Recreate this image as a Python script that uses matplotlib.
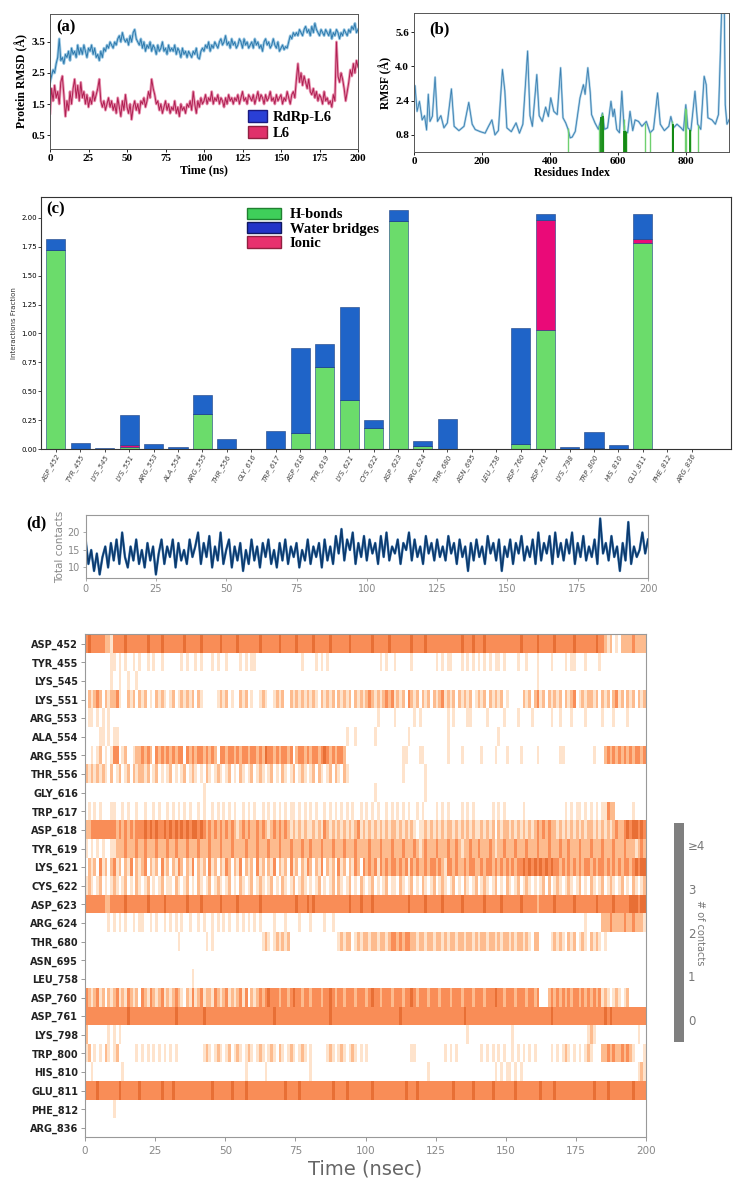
import numpy as np
import matplotlib
matplotlib.use("Agg")
import matplotlib.pyplot as plt
from matplotlib.colors import ListedColormap, Normalize
from matplotlib.cm import ScalarMappable
from matplotlib.patches import Patch

# ---------------- datos ----------------
# (a) RMSD, un valor por ns (0..200)
rmsd_time = np.arange(0, 201)
rmsd_complex = [2.2, 2.4, 2.6, 2.5, 2.8, 3.0, 3.6, 2.9, 3.0, 2.8,
                3.1, 3.0, 3.2, 2.9, 3.3, 3.1, 3.2, 3.0, 3.4, 3.1,
                3.3, 3.1, 3.4, 3.2, 3.0, 3.3, 3.2, 3.4, 3.1, 3.3,
                3.0, 3.1, 2.9, 3.2, 3.0, 3.3, 3.2, 3.4, 3.3, 3.5,
                3.4, 3.3, 3.5, 3.4, 3.6, 3.7, 3.5, 3.8, 3.6, 3.5,
                3.6, 3.4, 3.7, 3.5, 3.8, 3.9, 3.6, 3.5, 3.4, 3.6,
                3.3, 3.5, 3.2, 3.4, 3.3, 3.5, 3.2, 3.4, 3.3, 3.1,
                3.4, 3.2, 3.3, 3.5, 3.2, 3.3, 3.1, 3.4, 3.2, 3.3,
                3.2, 3.4, 3.1, 3.3, 3.2, 3.0, 3.3, 3.1, 3.2, 3.0,
                3.2, 3.1, 3.0, 3.2, 3.1, 3.3, 3.0, 2.95, 3.2, 3.3,
                3.2, 3.4, 3.3, 3.5, 3.2, 3.4, 3.3, 3.5, 3.4, 3.3,
                3.5, 3.6, 3.4, 3.5, 3.7, 3.4, 3.5, 3.3, 3.6, 3.4,
                3.5, 3.3, 3.4, 3.6, 3.5, 3.3, 3.6, 3.4, 3.5, 3.3,
                3.4, 3.5, 3.3, 3.6, 3.4, 3.5, 3.3, 3.4, 3.2, 3.5,
                3.6, 3.4, 3.5, 3.3, 3.4, 3.6, 3.4, 3.3, 3.5, 3.2,
                3.3, 3.4, 3.25, 3.35, 3.3, 3.5, 3.7, 3.6, 3.8, 3.7,
                3.8, 3.7, 3.9, 3.8, 3.7, 3.9, 4.0, 3.8, 3.9, 3.7,
                4.0, 3.8, 4.1, 3.9, 3.8, 3.7, 3.9, 3.8, 3.7, 3.9,
                3.8, 3.7, 3.9, 3.6, 3.8, 3.7, 3.9, 3.8, 3.6, 3.8,
                3.7, 3.9, 3.8, 3.7, 3.9, 3.8, 4.0, 3.9, 4.1, 3.8, 3.9]
rmsd_ligand = [1.2, 2.0, 1.6, 2.1, 1.7, 1.9, 1.5, 2.2, 2.4, 1.8,
               1.1, 1.6, 1.3, 1.9, 1.5, 2.0, 2.3, 1.7, 2.1, 1.6,
               2.2, 1.7, 1.9, 1.5, 1.8, 1.4, 1.7, 1.5, 1.9, 1.6,
               1.8, 2.0, 2.3, 1.6, 1.4, 1.6, 1.3, 1.5, 1.7, 1.4,
               1.6, 1.3, 1.5, 1.2, 1.7, 1.4, 1.1, 1.6, 1.3, 1.8,
               1.4, 1.2, 1.5, 1.0, 1.4, 1.6, 1.3, 1.5, 1.2, 1.6,
               1.5, 1.7, 1.4, 1.6, 1.9, 1.7, 2.3, 2.0, 1.8, 1.5,
               1.6, 1.3, 1.5, 1.2, 1.4, 1.6, 1.3, 1.5, 1.2, 1.4,
               1.3, 1.6, 1.2, 1.4, 1.1, 1.5, 1.3, 1.4, 1.2, 1.5,
               1.4, 1.6, 1.3, 1.9, 1.5, 1.2, 1.6, 1.4, 1.7, 1.5,
               1.6, 1.8, 1.5, 1.7, 1.6, 1.9, 1.5, 1.7, 1.6, 1.8,
               1.5, 1.7, 1.6, 1.4, 1.7, 1.5, 1.8, 1.6, 1.7, 1.5,
               1.7, 1.6, 1.8, 1.5, 1.7, 1.9, 1.6, 1.7, 1.5, 1.8,
               1.7, 1.6, 1.8, 1.5, 1.7, 1.9, 1.6, 1.8, 1.7, 1.5,
               1.8, 1.6, 1.7, 1.9, 1.6, 1.7, 1.5, 1.8, 1.6, 1.7,
               1.8, 1.5, 1.7, 1.6, 1.9, 1.7, 1.5, 1.8, 1.9, 1.7,
               2.3, 2.8, 2.2, 2.5, 2.1, 2.4, 2.2, 2.0, 2.3, 1.9,
               1.8, 2.0, 1.7, 1.9, 1.6, 1.8, 1.7, 1.5, 1.9, 1.6,
               1.7, 1.5, 1.6, 1.4, 1.8, 1.6, 3.5, 2.4, 2.2, 2.5,
               2.3, 2.0, 1.6, 1.9, 2.2, 2.6, 2.4, 2.8, 2.5, 2.9, 2.7]

# (b) RMSF: residuo, valor (Å)
rmsf_res = [0, 3, 9, 16, 24, 31, 37, 42, 47, 54, 62, 69, 79, 88, 98, 110, 118, 132, 147,
            161, 171, 180, 195, 209, 219, 229, 238, 248, 260, 267, 273, 286, 300, 310,
            320, 334, 341, 348, 361, 368, 377, 387, 395, 402, 411, 421, 431, 438, 446,
            453, 459, 465, 474, 488, 498, 503, 511, 518, 522, 532, 542, 554, 560, 569,
            579, 585, 589, 596, 604, 611, 618, 628, 635, 643, 650, 660, 670, 683, 694,
            704, 716, 724, 736, 749, 755, 763, 773, 785, 792, 799, 805, 814, 826, 834,
            843, 853, 859, 864, 876, 886, 895, 898, 905, 912, 915, 920, 926]
rmsf_val = [2.9, 3.1, 1.9, 2.37, 1.5, 1.7, 1.03, 2.7, 1.43, 1.67, 3.5, 1.43, 1.7, 1.13,
            1.36, 2.95, 1.2, 1.0, 1.2, 2.32, 1.3, 1.05, 0.95, 0.88, 1.2, 1.5, 0.8, 1.0,
            3.86, 2.86, 1.13, 0.95, 1.36, 0.88, 1.3, 4.72, 1.7, 1.2, 3.62, 1.7, 1.43, 2.1,
            1.66, 2.53, 1.9, 1.75, 3.94, 1.6, 1.36, 1.06, 0.66, 0.7, 0.96, 2.53, 3.15,
            2.7, 3.94, 2.8, 1.75, 1.36, 1.06, 1.82, 1.06, 1.13, 2.37, 1.66, 2.0, 1.06,
            0.9, 2.84, 1.0, 0.9, 1.9, 1.0, 1.5, 1.43, 1.2, 1.43, 0.9, 1.06, 2.76, 1.3,
            1.0, 1.2, 1.66, 1.13, 1.3, 1.13, 1.0, 2.21, 1.13, 1.0, 2.84, 1.3, 1.06, 3.54,
            3.15, 1.6, 1.5, 1.3, 1.75, 3.23, 7.0, 7.0, 2.2, 1.3, 1.5]
contact_res_dark = [551, 555, 618, 619, 621, 623, 760, 761, 811]
contact_res_light = [452, 545, 553, 554, 556, 616, 617, 622, 624, 680, 695, 758, 798, 800, 810, 812, 836]

# (c) fracciones de interacción
residues = ["ASP_452", "TYR_455", "LYS_545", "LYS_551", "ARG_553", "ALA_554", "ARG_555",
            "THR_556", "GLY_616", "TRP_617", "ASP_618", "TYR_619", "LYS_621", "CYS_622",
            "ASP_623", "ARG_624", "THR_680", "ASN_695", "LEU_758", "ASP_760", "ASP_761",
            "LYS_798", "TRP_800", "HIS_810", "GLU_811", "PHE_812", "ARG_836"]
hbonds = [1.72, 0, 0, 0.02, 0, 0, 0.30, 0, 0, 0, 0.135, 0.71, 0.42, 0.18, 1.97, 0.025, 0,
          0, 0, 0.04, 1.03, 0, 0.01, 0, 1.78, 0, 0]
ionic = [0, 0, 0, 0.012, 0, 0, 0, 0, 0, 0, 0, 0, 0, 0, 0, 0, 0, 0, 0, 0, 0.95, 0, 0, 0,
         0.035, 0, 0]
water = [0.10, 0.05, 0.005, 0.26, 0.04, 0.015, 0.17, 0.085, 0.004, 0.16, 0.735, 0.195,
         0.81, 0.07, 0.10, 0.045, 0.26, 0, 0, 1.01, 0.05, 0.014, 0.14, 0.032, 0.215, 0, 0]

# (d) contactos totales, un valor por ns
total_contacts = [18, 11, 15, 9, 14, 8, 13, 16, 10, 17,
                  12, 18, 11, 20, 13, 10, 16, 12, 18, 11,
                  15, 10, 17, 12, 16, 8, 14, 18, 11, 16,
                  13, 18, 10, 17, 12, 15, 11, 18, 13, 16,
                  20, 11, 17, 13, 19, 10, 16, 12, 20, 11,
                  15, 18, 10, 16, 12, 17, 9, 15, 11, 18,
                  12, 16, 10, 17, 13, 18, 11, 15, 10, 17,
                  12, 18, 11, 16, 13, 17, 10, 15, 12, 18,
                  11, 16, 13, 17, 10, 18, 12, 16, 11, 19,
                  14, 21, 12, 18, 15, 20, 11, 17, 13, 19,
                  12, 18, 14, 17, 11, 19, 13, 20, 12, 16,
                  14, 18, 11, 17, 15, 20, 12, 18, 13, 16,
                  11, 19, 14, 17, 12, 18, 13, 16, 12, 19,
                  14, 17, 11, 18, 13, 16, 9, 17, 12, 18,
                  13, 16, 11, 19, 14, 17, 12, 18, 9, 16,
                  13, 18, 11, 17, 14, 19, 12, 16, 13, 18,
                  11, 20, 12, 17, 14, 19, 11, 20, 13, 17,
                  12, 18, 14, 20, 11, 17, 13, 19, 12, 16,
                  13, 18, 11, 24, 14, 17, 12, 19, 13, 16,
                  9, 17, 12, 23, 11, 16, 13, 15, 20, 14, 18]
contacts_time = np.arange(0, 201)

# mapa de contactos: un dígito por ns (0..199), en grupos de 10
contact_rows = [
    "3433333221 3333433333 3343333433 3333343333 3433333343 3333433333 3343333334 3333343333 3433333433 3333433333 3343333343 3333334333 3433333333 3333433343 3343333333 3333343333 3433333433 3333433333 3343321201 0222232222",
    "0000000001 1010100101 0010100100 0000101001 0100010100 1000010101 1000000000 0000000100 0010101000 0000000000 0000010100 1000001000 0000010101 1000101010 1010101101 0000100100 0100001000 0101100010 0001000000",
    "0000000001 0010010010 0000000000 0000000000 0000000000 0000000000 0000000000 0000000000 0000000000 0000000000 0000000000 0000000000 0000000000 0000000000 0000000000 0000000000 0100000000",
    "0212320212 2310021202 1201021210 1201212120 2100000121 2010021201 0012100121 2002121212 1210212120 2121202121 2321212323 1212032120 2120212312 1202121201 2120212120 1000002120 2312021212 0212301212 2120212023 1202120212",
    "0110101010 0000000000 0000000000 0000000000 0000000000 0000000000 0000000000 0000000000 0000000000 0000000000 0000100000 1000000101 0000000001 0100001100 0001000001 0000100001 0000001001 0001000010 0000100010 0001000000",
    "0000011010 1100000000 0000000000 0000000000 0000000000 0000000000 0000000000 0000000000 0000000000 0001001000 0001000000 0000010000 0000000001 0000000000 0000000100",
    "0010120101 3301200122 3232032323 2323303232 3323232033 2332323323 3232433232 3323023323 2332343232 3320000000 0000000000 0001100001 1000000001 0000100000 0100001000 1000010000 0100000001 1000000000 0100023232 3232323323",
    "2121212102 0120120212 2120120101 2010120121 0102101210 1201021012 0121012010 2101201210 1202101202 1021000000 0000000000 0001000000 0100000000",
    "0000000000 0000000000 0000000000 0000000000 0010000000 0000000000 0000000000 0000000000 0000000000 0000000000 0001000000 0000000000 0100000000",
    "0101010001 1001010010 0100101001 0101010100 1010010101 0101001010 1001010101 0101101010 1010010101 0101010010 1010100101 0101010010 1000010101 0000101010 0000010101 0000001000 0000000000 0101011010 1010113220 0000010000",
    "2233333333 3232323233 3434343343 4343434344 3432323232 3232123232 2323212323 2321212121 1212132121 2121212312 1212121212 2121212101 1212121212 2121212121 1212120212 2121212121 2323232212 1212121212 2121212123 2234344343",
    "1010101001 1222322232 2322232223 2232223222 3222322232 2232222322 2322232223 2223222322 3222322232 2232223222 2322232223 2223222321 2322232223 2232122322 3222321223 2223222322 2322232223 2232223222 3222322232 2232221232",
    "0212031202 3120213021 2302120312 0213202130 2120312021 3202130212 0312021302 1203120213 2021302120 3120213203 2323132323 3232313232 2323323213 3232232332 2323323232 3232334343 4343434332 3232323233 2323323232 3233234344",
    "1210120101 2101201021 0120101201 1021012010 2101201210 1201021012 0121012010 2101201210 1012010120 2101201021 0120101201 1021012010 2101201210 1201021012 0121012010 2101201210 1012020121 0121012010 2101201210 1201021012",
    "3333333223 3333433333 3343333343 3333334333 3433333343 3333433333 3343333333 3333343334 3433333333 3333433343 3343333333 3333343333 3433333433 3333433333 3343333343 3333343333 3233333433 3333433333 3343333343 3333444344",
    "0000000010 1010100101 1001010010 1010100100 1010010101 0100101010 1010000100 0100001000 1000010010 0000000000 0000000000 0000000000 0000000000 0000000000 0000000000 0000000000 0000000000 0000000010 0000222322 2232232221",
    "0000000000 0000000000 0000000000 0001000000 0001010000 0000000000 0001210121 2120000000 0000000000 1212201212 2122122123 3232332212 2122122121 2212212212 1221221212 2121221210 2200001212 1021201210 2121010000",
    "",
    "0000000000 0000000000 0000000000 0000000010",
    "3212312021 2312132120 3213212312 1232102131 2312213212 3121231302 1232343332 3323433233 2333233432 3323332333 2343323332 3332334323 3323332333 2333233323 3323334332 3332333233 2300023232 3232332323 2323121012 1012000000",
    "3333333333 3333343333 3333333333 3343333333 3343333333 3333333333 3333333433 3333333333 3333333433 3333333333 3333333333 3343333333 3333333333 3333343333 3333333333 3333333333 3333334333 3333333333 3333343433 3333333333",
    "2000000010 1010000000 0000000000 0000000000 0000000000 0000000000 0000000000 0000000000 0000000000 0000000000 0000000000 0000000000 0000000000 0000001000 0000000000 0010000000 0000000000 0000000001 2100000000 0000000100",
    "1201010210 1200000010 1010101010 1010000000 0012101210 1201210121 0121012102 1012101210 1000001210 1210121010 1000000000 0000001100 0000000010 1010000000 0101010101 0010101010 1000001010 1210101012 1000223232 2323210001",
    "0010000000 0001000000 0000000000 0000000000 0000000000 0000000100 0000100000 0000000000 1000000000 0000000000 0000000000 0000000000 0010000000 0000000000 0000001010 1101010000 0000000000 0000000000 0000000000 0000000121",
    "3333433333 3343333334 3333333433 3433333333 3333343333 3343333433 3333333333 3433334333 3333333343 3334333333 3343333333 3333433343 3333333333 3433333343 3333343333 3334333333 3343333433 3333333333 3433334333 3333343333",
    "0000000000 1",
    "",
]
cbar_labels = ["0", "1", "2", "3", "≥4"]

# ---------------- figura ----------------
W, H = 742, 1183
fig = plt.figure(figsize=(W / 100, H / 100), dpi=100)


def rect(x0, y0, x1, y1):
    return [x0 / W, 1 - y1 / H, (x1 - x0) / W, (y1 - y0) / H]


serif = dict(family="Liberation Serif", weight="bold")

# (a) RMSD
ax_a = fig.add_axes(rect(50, 14, 358, 149))
ax_a.plot(rmsd_time, rmsd_complex, color="#9cc9e4", lw=2.0)
ax_a.plot(rmsd_time, rmsd_complex, color="#2f7aad", lw=0.7)
ax_a.plot(rmsd_time, rmsd_ligand, color="#e995b2", lw=2.0)
ax_a.plot(rmsd_time, rmsd_ligand, color="#b01f52", lw=0.7)
ax_a.set_xlim(0, 200)
ax_a.set_ylim(0.05, 4.4)
ax_a.set_xticks(range(0, 201, 25))
ax_a.set_yticks([0.5, 1.5, 2.5, 3.5])
ax_a.set_xlabel("Time (ns)", fontsize=8.5, labelpad=1, **serif)
ax_a.set_ylabel("Protein RMSD (Å)", fontsize=8.5, labelpad=2, **serif)
ax_a.text(0.02, 0.9, "(a)", transform=ax_a.transAxes, fontsize=12, va="center", **serif)
ax_a.legend(handles=[Patch(facecolor="#2a3fd6", edgecolor="#1a1a80", label="RdRp-L6"),
                     Patch(facecolor="#e0306a", edgecolor="#902040", label="L6")],
            loc="lower left", bbox_to_anchor=(0.6, -0.03), frameon=False,
            handlelength=1.3, handleheight=0.9, labelspacing=0.15, handletextpad=0.4,
            prop=dict(family="Liberation Serif", weight="bold", size=10.5))

# (b) RMSF
ax_b = fig.add_axes(rect(414, 13, 729, 152))
ax_b.plot(rmsf_res, rmsf_val, color="#a9cfe6", lw=1.6)
ax_b.plot(rmsf_res, rmsf_val, color="#3b7fb0", lw=0.6)
for res in contact_res_light:
    ax_b.vlines(res, 0, np.interp(res, rmsf_res, rmsf_val), color="#6fd06f", lw=1.0)
for res in contact_res_dark:
    ax_b.vlines(res, 0, np.interp(res, rmsf_res, rmsf_val), color="#138a13", lw=1.3)
ax_b.set_xlim(0, 926)
ax_b.set_ylim(0, 6.5)
ax_b.set_xticks([0, 200, 400, 600, 800])
ax_b.set_yticks([0.8, 2.4, 4.0, 5.6])
ax_b.set_xlabel("Residues Index", fontsize=8.5, labelpad=1, **serif)
ax_b.set_ylabel("RMSF (Å)", fontsize=8.5, labelpad=2, **serif)
ax_b.text(0.05, 0.88, "(b)", transform=ax_b.transAxes, fontsize=12, va="center", **serif)

for ax in (ax_a, ax_b):
    ax.tick_params(labelsize=8, length=2, width=0.6, pad=1.5)
    for lab in ax.get_xticklabels() + ax.get_yticklabels():
        lab.set_fontfamily("Liberation Serif")
        lab.set_fontweight("bold")
    for s in ax.spines.values():
        s.set_color("#555555")
        s.set_linewidth(0.7)

# (c) barras apiladas
ax_c = fig.add_axes(rect(41, 197, 731, 449))
x = np.arange(len(residues))
hb = np.array(hbonds)
io = np.array(ionic)
wb = np.array(water)
bkw = dict(width=0.78, edgecolor="#1b3f80", linewidth=0.4)
ax_c.bar(x, hb, color="#6bdc6b", **bkw)
ax_c.bar(x, io, bottom=hb, color="#ea0a78", **bkw)
ax_c.bar(x, wb, bottom=hb + io, color="#1f64c8", **bkw)
ax_c.set_xlim(-0.6, 27.6)
ax_c.set_ylim(0, 2.18)
ax_c.set_yticks(np.arange(0, 2.01, 0.25))
ax_c.set_yticklabels([f"{v:.2f}" for v in np.arange(0, 2.01, 0.25)])
ax_c.set_xticks(x)
ax_c.set_xticklabels(residues, rotation=60, ha="right", rotation_mode="anchor",
                     fontsize=5, style="italic", color="#444444")
ax_c.tick_params(axis="y", labelsize=5, length=2, width=0.5, pad=1)
ax_c.tick_params(axis="x", length=2, width=0.5, pad=1)
ax_c.set_ylabel("Interactions Fraction", fontsize=5, color="#333333", labelpad=3)
for s in ax_c.spines.values():
    s.set_color("#333333")
    s.set_linewidth(0.8)
ax_c.text(0.008, 0.95, "(c)", transform=ax_c.transAxes, fontsize=12, va="center", **serif)
ax_c.legend(handles=[Patch(facecolor="#3fcf5a", edgecolor="#208030", label="H-bonds"),
                     Patch(facecolor="#2233c8", edgecolor="#101860", label="Water bridges"),
                     Patch(facecolor="#e8306e", edgecolor="#902040", label="Ionic")],
            loc="upper left", bbox_to_anchor=(0.28, 1.01), frameon=False,
            handlelength=2.3, handleheight=0.8, labelspacing=0.05, handletextpad=0.6,
            prop=dict(family="Liberation Serif", weight="bold", size=10.5))

# (d) contactos totales
grey = "#888888"
ax_d = fig.add_axes(rect(85.6, 515, 648, 578))
ax_d.plot(contacts_time, total_contacts, color="#5d8fc0", lw=1.8)
ax_d.plot(contacts_time, total_contacts, color="#0b3a6e", lw=1.2)
ax_d.set_xlim(0, 200)
ax_d.set_ylim(7, 25)
ax_d.set_xticks(range(0, 201, 25))
ax_d.set_yticks([10, 15, 20])
ax_d.tick_params(labelsize=7, colors=grey, length=2, width=0.5, pad=2)
ax_d.set_ylabel("Total contacts", fontsize=7.5, color=grey, labelpad=2)
for s in ax_d.spines.values():
    s.set_color("#999999")
fig.text(26 / W, 1 - 523 / H, "(d)", fontsize=12, va="center", **serif)

# mapa de contactos por residuo
grid = np.array([[int(c) for c in r.replace(" ", "").ljust(200, "0")[:200]] for r in contact_rows])
cmap = ListedColormap(["#ffffff", "#fee3cc", "#fdbb8e", "#f98d57", "#e86f35"])
ax_h = fig.add_axes(rect(85, 634.4, 646, 1137.3))
ax_h.imshow(grid, aspect="auto", cmap=cmap, vmin=-0.5, vmax=4.5, interpolation="nearest",
            extent=[0, 200, len(residues) - 0.5, -0.5])
ax_h.set_yticks(np.arange(len(residues)))
ax_h.set_yticklabels(residues, fontsize=7, fontweight="bold", color="#222222")
ax_h.set_xticks(range(0, 201, 25))
ax_h.tick_params(axis="x", labelsize=7.5, colors=grey, length=3, width=0.6)
ax_h.tick_params(axis="y", length=3, width=0.6, color=grey, pad=2)
ax_h.set_xlabel("Time (nsec)", fontsize=14, color="#666666", labelpad=2)
for s in ax_h.spines.values():
    s.set_color("#999999")

# barra de color (gris en el original)
cax = fig.add_axes(rect(674, 823, 684, 1042))
cb = fig.colorbar(ScalarMappable(norm=Normalize(-0.5, 4.5), cmap=ListedColormap(["#7f7f7f"])),
                  cax=cax, ticks=[0, 1, 2, 3, 4])
cb.set_ticklabels(cbar_labels)
cb.outline.set_visible(False)
cax.tick_params(labelsize=8.5, colors="#777777", length=0, pad=3)
cax.set_ylabel("# of contacts", fontsize=7, color="#777777", rotation=270, va="center")
cax.yaxis.set_label_coords(2.6, 0.5)

fig.savefig("out.png", dpi=100)
